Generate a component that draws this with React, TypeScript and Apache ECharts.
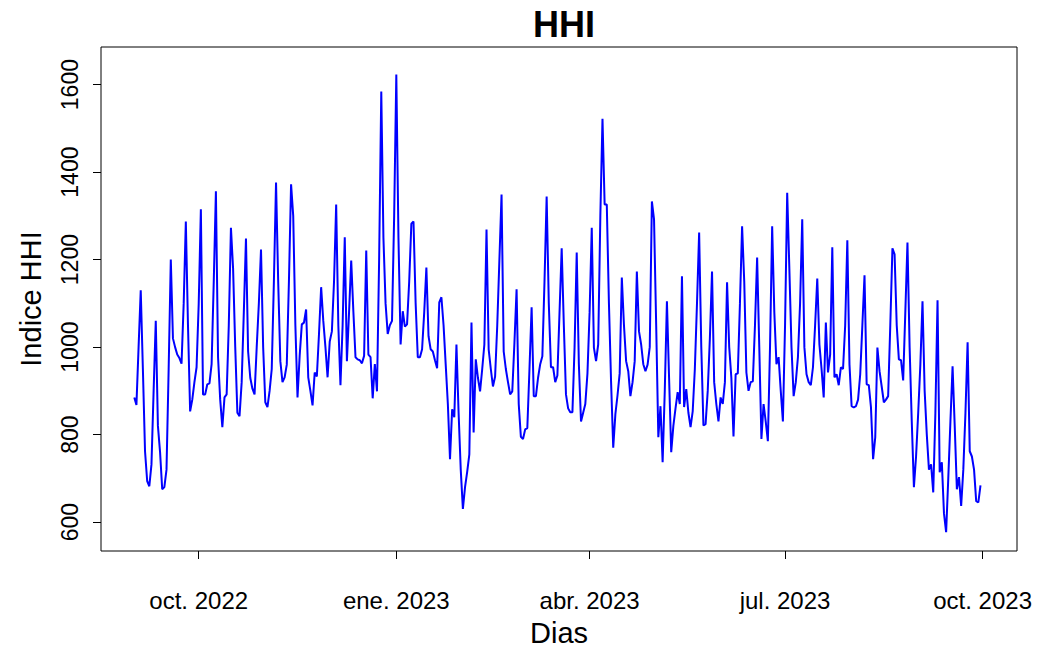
import React, { useEffect, useRef } from "react";
import * as echarts from "echarts";

// Daily HHI values, 1 Sep 2022 .. 30 Sep 2023 (one array per month)
const sep2022 = [885, 868, 1000, 1130, 950, 762, 694, 682, 732, 900, 1060, 820, 760, 675, 680, 720, 950, 1200, 1020, 1000, 983, 975, 962, 1100, 1287, 1050, 853, 880, 920, 954];
const oct2022 = [1100, 1315, 892, 892, 915, 917, 961, 1150, 1356, 977, 880, 817, 885, 892, 1050, 1273, 1180, 1000, 850, 842, 920, 1080, 1248, 990, 930, 905, 892, 1000, 1100, 1223, 1000];
const nov2022 = [874, 863, 900, 950, 1150, 1376, 1150, 968, 920, 931, 960, 1150, 1372, 1300, 1050, 885, 980, 1052, 1056, 1086, 931, 900, 867, 942, 933, 1030, 1137, 1060, 1000, 931];
const dec2022 = [1013, 1036, 1150, 1326, 1050, 913, 1050, 1251, 968, 1080, 1198, 1082, 977, 972, 970, 963, 980, 1221, 983, 977, 883, 961, 899, 1200, 1584, 1250, 1100, 1030, 1050, 1060, 1300];
const jan2023 = [1623, 1250, 1006, 1082, 1047, 1052, 1150, 1282, 1287, 1100, 977, 977, 995, 1080, 1182, 1025, 995, 990, 970, 952, 1102, 1114, 1050, 960, 870, 744, 858, 840, 1006, 850, 720];
const feb2023 = [630, 680, 715, 755, 1056, 805, 972, 930, 899, 950, 1006, 1269, 995, 950, 910, 933, 1050, 1200, 1349, 990, 950, 920, 892, 899, 1010, 1132, 870, 795];
const mar2023 = [790, 812, 815, 950, 1091, 888, 888, 930, 961, 979, 1150, 1344, 1100, 954, 954, 920, 935, 1080, 1226, 1050, 892, 860, 851, 851, 1000, 1216, 961, 830, 850, 870, 940];
const apr2023 = [1080, 1273, 999, 968, 1006, 1300, 1522, 1326, 1326, 1100, 920, 770, 847, 890, 940, 1159, 1050, 968, 945, 888, 920, 968, 1173, 1036, 1006, 961, 945, 960, 1000, 1333];
const may2023 = [1292, 1050, 794, 865, 737, 900, 1105, 930, 760, 820, 860, 897, 870, 1162, 863, 904, 850, 817, 853, 950, 1100, 1262, 1000, 821, 824, 900, 1020, 1173, 920, 870, 830];
const jun2023 = [885, 870, 920, 1148, 1000, 930, 796, 938, 940, 1100, 1276, 1150, 942, 900, 920, 922, 1050, 1205, 1000, 790, 870, 830, 785, 1000, 1276, 1080, 961, 977, 900, 830];
const jul2023 = [1050, 1353, 1180, 1000, 888, 920, 977, 1100, 1292, 1000, 938, 920, 913, 954, 1050, 1157, 1006, 950, 885, 1056, 942, 983, 1228, 931, 938, 913, 954, 950, 1050, 1244, 960];
const aug2023 = [865, 862, 865, 880, 938, 1050, 1164, 915, 913, 863, 744, 794, 999, 945, 910, 874, 880, 888, 1050, 1226, 1212, 1050, 972, 970, 924, 1080, 1239, 1000, 830, 680, 750];
const sep2023 = [850, 960, 1105, 900, 800, 720, 732, 668, 850, 1107, 714, 737, 620, 577, 700, 830, 956, 820, 675, 703, 637, 720, 850, 1011, 762, 750, 720, 648, 645, 684];

const months = [sep2022, oct2022, nov2022, dec2022, jan2023, feb2023, mar2023, apr2023, may2023, jun2023, jul2023, aug2023, sep2023];

// x tick positions in days since 1 Sep 2022
const tickDays = [30, 122, 212, 303, 395];
const tickLabels = ["oct. 2022", "ene. 2023", "abr. 2023", "jul. 2023", "oct. 2023"];
const yTicks = [600, 800, 1000, 1200, 1400, 1600];

const FONT = "Liberation Sans, Arial, sans-serif";

export default function App() {
  const ref = useRef<HTMLDivElement>(null);
  useEffect(() => {
    document.body.style.margin = "0";
    if (!ref.current) return;
    const chart = echarts.init(ref.current, null, { renderer: "svg" });
    const values = months.flat();
    const data = values.map((v, i) => [i, v]);
    chart.setOption({
      animation: false,
      backgroundColor: "#ffffff",
      title: {
        text: "HHI",
        left: 559,
        textAlign: "center",
        top: 1,
        textStyle: { fontFamily: FONT, fontWeight: "bold", fontSize: 36, color: "#000" },
      },
      grid: { left: 101, right: 25, top: 47, bottom: 100, show: true, borderColor: "#000", borderWidth: 1, backgroundColor: "transparent" },
      xAxis: {
        type: "value",
        min: -15.5,
        max: 411,
        name: "Dias",
        nameLocation: "middle",
        nameGap: 67,
        nameTextStyle: { fontFamily: FONT, fontSize: 29, color: "#000" },
        axisLine: { show: false, onZero: false },
        axisTick: { show: true, customValues: tickDays, length: 8, lineStyle: { color: "#000", width: 1 } },
        axisLabel: {
          customValues: tickDays,
          formatter: (v: number) => tickLabels[tickDays.indexOf(Math.round(v))] ?? "",
          fontFamily: FONT,
          fontSize: 24,
          color: "#000",
          margin: 37,
        },
        splitLine: { show: false },
      },
      yAxis: {
        type: "value",
        min: 534,
        max: 1686,
        name: "Indice HHI",
        nameLocation: "middle",
        nameGap: 56,
        nameRotate: 90,
        nameTextStyle: { fontFamily: FONT, fontSize: 29, color: "#000" },
        axisLine: { show: false, onZero: false },
        axisTick: { show: true, customValues: yTicks, length: 8, lineStyle: { color: "#000", width: 1 } },
        axisLabel: {
          customValues: yTicks,
          rotate: 90,
          formatter: (v: number) => String(v),
          fontFamily: FONT,
          fontSize: 23,
          color: "#000",
          margin: 20,
        },
        splitLine: { show: false },
      },
      series: [
        {
          type: "line",
          data,
          showSymbol: false,
          lineStyle: { color: "#0000ff", width: 2 },
        },
      ],
    });
    return () => chart.dispose();
  }, []);
  return <div ref={ref} style={{ width: 1042, height: 652 }} />;
}
